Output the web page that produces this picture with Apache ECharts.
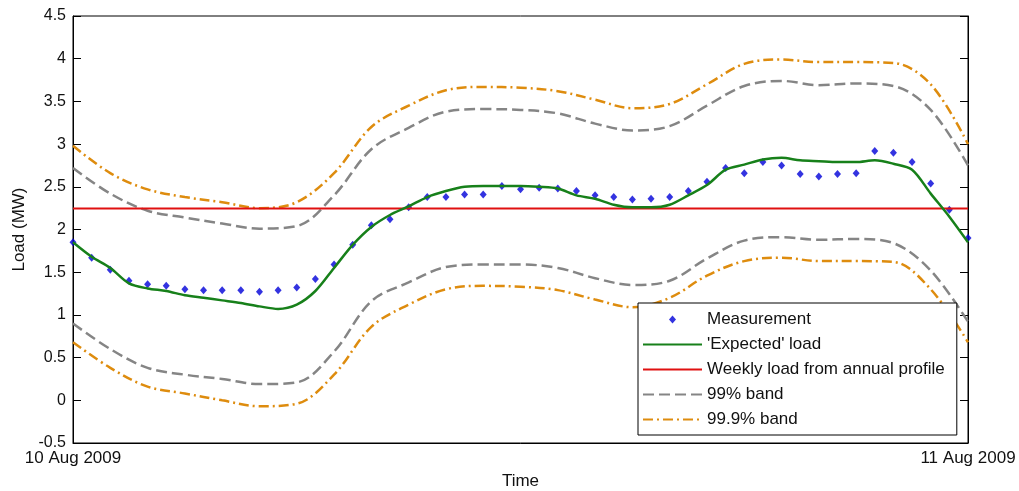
<!DOCTYPE html>
<html>
<head>
<meta charset="utf-8">
<title>Load</title>
<script src="https://cdn.jsdelivr.net/npm/echarts@6/dist/echarts.min.js"></script>
<style>
  html, body { margin: 0; padding: 0; background: #fff; }
  #main { width: 1019px; height: 491px; }
</style>
</head>
<body>
<div id="main"></div>
<script>
// x tick labels (the axis runs over one day, in hours)
var xTickLabels = ['10 Aug 2009', '11 Aug 2009'];

// half-hourly time stamps (hours after 10 Aug 2009 00:00)
var halfHours = [0, 0.5, 1, 1.5, 2, 2.5, 3, 3.5, 4, 4.5, 5, 5.5, 6, 6.5, 7, 7.5, 8, 8.5, 9, 9.5,
  10, 10.5, 11, 11.5, 12, 12.5, 13, 13.5, 14, 14.5, 15, 15.5, 16, 16.5, 17, 17.5, 18, 18.5, 19, 19.5,
  20, 20.5, 21, 21.5, 22, 22.5, 23, 23.5, 24];
// hourly time stamps for the bands
var hours = [0, 1, 2, 3, 4, 5, 6, 7, 8, 9, 10, 11, 12, 13, 14, 15, 16, 17, 18, 19, 20, 21, 22, 23, 24];

// measured load (MW)
var measurement = [1.85, 1.67, 1.53, 1.40, 1.36, 1.34, 1.30, 1.29, 1.29, 1.29, 1.27, 1.29, 1.32, 1.42, 1.59, 1.82,
  2.05, 2.12, 2.26, 2.38, 2.38, 2.41, 2.41, 2.51, 2.47, 2.49, 2.48, 2.45, 2.40, 2.38, 2.35, 2.36,
  2.38, 2.45, 2.56, 2.72, 2.66, 2.79, 2.75, 2.65, 2.62, 2.65, 2.66, 2.92, 2.90, 2.79, 2.54, 2.23, 1.90];

// 'expected' load (MW)
var expected = [1.85, 1.68, 1.55, 1.37, 1.31, 1.28, 1.23, 1.20, 1.17, 1.14, 1.10, 1.07, 1.12, 1.28, 1.55, 1.82,
  2.03, 2.17, 2.27, 2.38, 2.45, 2.50, 2.51, 2.51, 2.51, 2.50, 2.48, 2.40, 2.36, 2.29, 2.26, 2.26,
  2.29, 2.40, 2.52, 2.70, 2.76, 2.82, 2.84, 2.81, 2.80, 2.79, 2.79, 2.81, 2.77, 2.70, 2.42, 2.15, 1.85];

// weekly load from annual profile (MW)
var weeklyLoad = 2.245;

// bands (MW), hourly
var band99Upper = [2.72, 2.42, 2.22, 2.14, 2.07, 2.01, 2.04, 2.40, 2.94, 3.19, 3.38, 3.41, 3.40,
  3.36, 3.24, 3.16, 3.21, 3.45, 3.68, 3.74, 3.69, 3.71, 3.68, 3.40, 2.75];
var band99Lower = [0.90, 0.60, 0.38, 0.30, 0.25, 0.19, 0.21, 0.57, 1.16, 1.38, 1.56, 1.59, 1.59,
  1.55, 1.43, 1.35, 1.40, 1.66, 1.87, 1.91, 1.88, 1.89, 1.84, 1.52, 0.92];
var band999Upper = [2.98, 2.66, 2.47, 2.38, 2.32, 2.25, 2.32, 2.66, 3.20, 3.45, 3.63, 3.67, 3.66,
  3.62, 3.52, 3.42, 3.47, 3.70, 3.94, 3.99, 3.96, 3.96, 3.95, 3.70, 3.00];
var band999Lower = [0.68, 0.38, 0.16, 0.08, 0.00, -0.07, -0.04, 0.30, 0.86, 1.12, 1.30, 1.34, 1.33,
  1.29, 1.18, 1.09, 1.20, 1.46, 1.63, 1.67, 1.63, 1.63, 1.62, 1.30, 0.68];

var yMin = -0.5, yMax = 4.5, yStep = 0.5;

function pairs(xs, ys) {
  return xs.map(function (x, i) { return [x, ys[i]]; });
}

var font = 'Liberation Sans, Arial, sans-serif';
var gray = '#858585';
var orange = '#de8c0e';
var noDot = { opacity: 0, borderWidth: 0 };

var yTick = { show: true, inside: true, length: 8, lineStyle: { color: '#000' } };

var option = {
  backgroundColor: '#fff',
  animation: false,
  textStyle: { fontFamily: font },
  grid: {
    left: 73, right: 51, top: 16, bottom: 48,
    outerBoundsMode: 'none',
    show: true, borderColor: '#000', borderWidth: 1
  },
  legend: {
    orient: 'vertical',
    left: 638, top: 303,
    padding: [8, 12, 7, 4],
    itemWidth: 59, itemHeight: 8, itemGap: 8,
    symbolKeepAspect: true,
    backgroundColor: '#fff',
    borderColor: '#000', borderWidth: 1,
    textStyle: { fontFamily: font, fontSize: 17, color: '#111' },
    data: [
      { name: 'Measurement', icon: 'path://M3.5,0 L7,4 L3.5,8 L0,4 Z' },
      { name: '\'Expected\' load', itemStyle: noDot },
      { name: 'Weekly load from annual profile', itemStyle: noDot },
      { name: '99% band', itemStyle: noDot },
      { name: '99.9% band', itemStyle: noDot }
    ]
  },
  xAxis: {
    type: 'value',
    min: hours[0], max: hours[hours.length - 1], interval: 24,
    name: 'Time', nameLocation: 'middle', nameGap: 30,
    nameTextStyle: { fontSize: 17, color: '#111', fontFamily: font },
    axisLine: { show: true, onZero: false, lineStyle: { color: '#000' } },
    axisTick: { show: false },
    splitLine: { show: false },
    axisLabel: {
      fontSize: 17, color: '#111', margin: 7,
      formatter: function (v) { return v === 0 ? xTickLabels[0] : xTickLabels[1]; }
    }
  },
  yAxis: [{
    type: 'value', min: yMin, max: yMax, interval: yStep,
    name: 'Load (MW)', nameLocation: 'middle', nameGap: 43, nameRotate: 90,
    nameTextStyle: { fontSize: 17, color: '#111', fontFamily: font },
    axisLine: { show: true, onZero: false, lineStyle: { color: '#000' } },
    axisTick: yTick,
    splitLine: { show: false },
    axisLabel: { fontSize: 16, color: '#111', margin: 7 }
  }, {
    type: 'value', min: yMin, max: yMax, interval: yStep, position: 'right',
    axisLine: { show: true, onZero: false, lineStyle: { color: '#000' } },
    axisTick: yTick,
    splitLine: { show: false },
    axisLabel: { show: false }
  }],
  series: [
    {
      name: '99.9% band', type: 'line', smooth: 0.35, symbol: 'none',
      data: pairs(hours, band999Upper),
      lineStyle: { color: orange, width: 2.5, type: [10, 4, 2, 4] },
      itemStyle: { color: orange }
    },
    {
      name: '99.9% band', type: 'line', smooth: 0.35, symbol: 'none',
      data: pairs(hours, band999Lower),
      lineStyle: { color: orange, width: 2.5, type: [10, 4, 2, 4] },
      itemStyle: { color: orange }
    },
    {
      name: '99% band', type: 'line', smooth: 0.35, symbol: 'none',
      data: pairs(hours, band99Upper),
      lineStyle: { color: gray, width: 2.5, type: [11, 5] },
      itemStyle: { color: gray }
    },
    {
      name: '99% band', type: 'line', smooth: 0.35, symbol: 'none',
      data: pairs(hours, band99Lower),
      lineStyle: { color: gray, width: 2.5, type: [11, 5] },
      itemStyle: { color: gray }
    },
    {
      name: 'Weekly load from annual profile', type: 'line', symbol: 'none',
      data: [[hours[0], weeklyLoad], [hours[hours.length - 1], weeklyLoad]],
      lineStyle: { color: '#e01010', width: 2 },
      itemStyle: { color: '#e01010' }
    },
    {
      name: '\'Expected\' load', type: 'line', smooth: 0.3, symbol: 'none',
      data: pairs(halfHours, expected),
      lineStyle: { color: '#17801a', width: 2.5 },
      itemStyle: { color: '#17801a' }
    },
    {
      name: 'Measurement', type: 'scatter', symbol: 'diamond', symbolSize: [7, 8],
      data: pairs(halfHours, measurement),
      itemStyle: { color: '#0000d8' }
    }
  ]
};

var myChart = echarts.init(document.getElementById('main'));
myChart.setOption(option);
</script>
</body>
</html>
